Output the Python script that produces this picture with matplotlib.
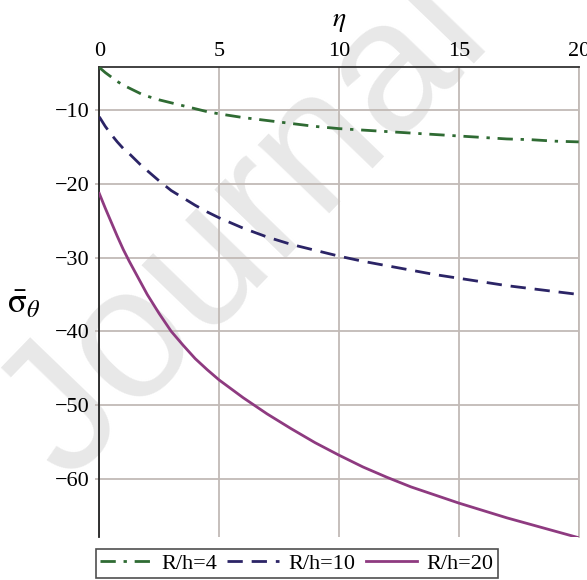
import numpy as np
import matplotlib.pyplot as plt

# Data
eta = [0, 0.25, 0.5, 0.75, 1, 1.25, 1.5, 1.75, 2, 2.5, 3, 3.5, 4, 4.5, 5,
       6, 7, 8, 9, 10, 11, 12, 13, 14, 15, 16, 17, 18, 19, 20]
sig_rh4 = [-4.2, -4.9, -5.5, -6.1, -6.6, -7.0, -7.4, -7.8, -8.1, -8.6, -9.0, -9.4, -9.8, -10.2, -10.5,
           -11.0, -11.4, -11.8, -12.2, -12.5, -12.7, -12.9, -13.1, -13.3, -13.5, -13.7, -13.9, -14.0, -14.2, -14.3]
sig_rh10 = [-10.9, -12.2, -13.3, -14.3, -15.2, -15.9, -16.7, -17.5, -18.2, -19.6, -20.9, -21.9, -22.9, -23.8, -24.6,
            -26.0, -27.2, -28.2, -29.0, -29.8, -30.5, -31.1, -31.7, -32.3, -32.8, -33.3, -33.8, -34.2, -34.6, -35.0]
sig_rh20 = [-21.3, -23.3, -25.2, -27.1, -28.9, -30.5, -32.0, -33.5, -35.0, -37.6, -40.0, -41.9, -43.7, -45.2, -46.6,
            -49.0, -51.2, -53.2, -55.1, -56.8, -58.4, -59.8, -61.1, -62.2, -63.3, -64.3, -65.3, -66.2, -67.1, -68.0]
labels = ['R/h=4', 'R/h=10', 'R/h=20']
x_ticks = [0, 5, 10, 15, 20]
y_ticks = [-10, -20, -30, -40, -50, -60]

plt.rcParams['font.family'] = ['Liberation Serif', 'DejaVu Serif']
plt.rcParams['mathtext.fontset'] = 'stix'

W, H = 587, 580
fig = plt.figure(figsize=(W / 100, H / 100), dpi=100)
ax = fig.add_axes([99.3 / W, 1 - 537 / H, (578.7 - 99.3) / W, (537 - 66.7) / H])

grid_c = '#c2bab6'
ax.set_xlim(0, 20)
ax.set_ylim(-67.9, -4.1)
ax.set_xticks(x_ticks)
ax.set_yticks(y_ticks)
ax.grid(True, color=grid_c, lw=1.3)
ax.set_axisbelow(True)

ax.xaxis.tick_top()
ax.tick_params(axis='x', length=0, pad=4, labelsize=16)
ax.tick_params(axis='y', length=3, width=1.2, color=grid_c, pad=4, labelsize=16)

ax.spines['bottom'].set_visible(False)
ax.spines['right'].set_color(grid_c)
ax.spines['right'].set_linewidth(1.3)
ax.spines['top'].set_color('#333333')
ax.spines['left'].set_color('#222222')
ax.spines['top'].set_linewidth(1.3)
ax.spines['left'].set_linewidth(1.3)

# watermark, kept under grid and tick labels
ax.text(245 / W, 1 - 228 / H, 'Journal', transform=fig.transFigure, family='Liberation Sans',
        fontsize=135, color='#e8e8e8', rotation=46, ha='center', va='center',
        clip_on=False, zorder=0.3)

l1, = ax.plot(eta, sig_rh4, color='#2f6b33', lw=2.0, dashes=(5.5, 2.8, 1.2, 2.8), label=labels[0], zorder=3)
l2, = ax.plot(eta, sig_rh10, color='#2b2466', lw=2.0, dashes=(5.5, 3.2), label=labels[1], zorder=3)
l3, = ax.plot(eta, sig_rh20, color='#8e3a80', lw=2.0, label=labels[2], zorder=3)

# axis titles placed directly in figure pixels
fig.text(339 / W, 1 - 22 / H, r'$\eta$', fontsize=20, ha='center', va='center')
fig.text(24 / W, 1 - 305 / H, r'$\bar{\mathrm{\sigma}}_{\theta}$', fontsize=25, ha='center', va='center')

leg = fig.legend(handles=[l1, l2, l3], loc='upper left', bbox_to_anchor=(96 / W, 1 - 549 / H),
                 ncol=3, fontsize=16, frameon=True, fancybox=False, edgecolor='#222222',
                 handlelength=2.3, columnspacing=0.45, handletextpad=0.45, borderpad=0.2,
                 borderaxespad=0)
leg.get_frame().set_linewidth(1.2)

fig.savefig('out.png', dpi=100)
